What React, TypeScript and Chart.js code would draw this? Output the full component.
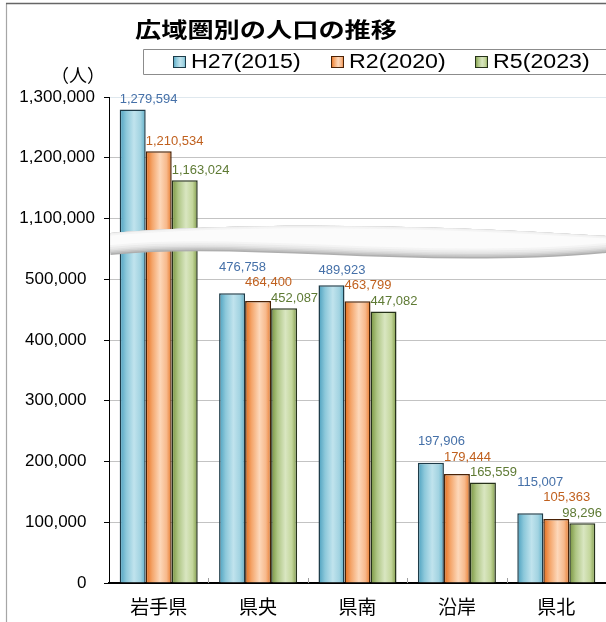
import React, { useEffect, useRef } from 'react';
import { Chart, registerables } from 'chart.js';

Chart.register(...registerables);

// ---- data ----
const categories = ['岩手県', '県央', '県南', '沿岸', '県北'];
const seriesNames = ['H27(2015)', 'R2(2020)', 'R5(2023)'];
const valuesH27 = [1279594, 476758, 489923, 197906, 115007];
const valuesR2 = [1210534, 464400, 463799, 179444, 105363];
const valuesR5 = [1163024, 452087, 447082, 165559, 98296];
const lowerTicks = [0, 100000, 200000, 300000, 400000, 500000];
const upperTicks = [1100000, 1200000, 1300000];
const chartTitle = '広域圏別の人口の推移';
const unitLabel = '（人）';

// axis break: values from BREAK_LOW to BREAK_HIGH are squeezed into one tick step
const STEP = 100000;
const BREAK_LOW = 500000;
const BREAK_HIGH = 1100000;
const GAP = BREAK_HIGH - BREAK_LOW - STEP;
const toAxis = (v: number) => (v > BREAK_LOW ? v - GAP : v);
const fromAxis = (a: number) => (a > BREAK_LOW ? a + GAP : a);

const seriesValues = [valuesH27, valuesR2, valuesR5];
const tickValues = [...lowerTicks, ...upperTicks];
const TOP_AXIS = toAxis(upperTicks[upperTicks.length - 1]);

// ---- styles ----
const JP = '"Noto Sans CJK JP", "Noto Sans", sans-serif';
const LAT = '"Liberation Sans", Arial, sans-serif';
const CAT_PCT = 0.785;
const GRID = '#c3c3c3';
const GRID_TOP = '#dfe8ee';
const gradStops = [
  ['#4A9FBE', '#8CC8DA', '#C0E3ED', '#A2D3E1', '#5FAFC9'],
  ['#E46C1A', '#F4A56A', '#FDD8BA', '#F7B98C', '#E8792B'],
  ['#76923C', '#AFC685', '#D9E6C1', '#C3D69B', '#7F9A48'],
];
const stopPos = [0, 0.25, 0.55, 0.8, 1];
const borderColors = ['#1D3B48', '#4A2206', '#26321A'];
const labelColors = ['#4570A8', '#C0601E', '#5E7A34'];

const fmt = (v: number) => v.toLocaleString('en-US');

function makeGrad(ctx: CanvasRenderingContext2D, left: number, width: number, d: number) {
  const g = ctx.createLinearGradient(left, 0, left + width, 0);
  gradStops[d].forEach((c, i) => g.addColorStop(stopPos[i], c));
  return g;
}

function drawWave(chart: any) {
  const ctx = chart.ctx as CanvasRenderingContext2D;
  const area = chart.chartArea;
  const ys = chart.scales.y;
  const mid = ys.getPixelForValue(toAxis(BREAK_LOW) + STEP / 2);
  const x0 = area.left + 1.5;
  const x3 = chart.width;
  const w = x3 - x0;
  const top = [mid - 16, mid - 27, mid - 25, mid - 13];
  const bot = [mid + 6, mid - 7, mid + 21, mid + 4];
  const cx = [x0, x0 + w * 0.28, x0 + w * 0.62, x3];
  const band = (topOff: number, botOff: number, color: string) => {
    ctx.beginPath();
    ctx.moveTo(cx[0], top[0] + topOff);
    ctx.bezierCurveTo(cx[1], top[1] + topOff, cx[2], top[2] + topOff, cx[3], top[3] + topOff);
    ctx.lineTo(cx[3], bot[3] - botOff);
    ctx.bezierCurveTo(cx[2], bot[2] - botOff, cx[1], bot[1] - botOff, cx[0], bot[0] - botOff);
    ctx.closePath();
    ctx.fillStyle = color;
    ctx.fill();
  };
  band(0, 0, '#aeaeae');
  band(0, 1.5, '#c2c2c2');
  band(0, 3, '#d3d3d3');
  band(0, 4.5, '#e1e1e1');
  band(0, 6, '#ebebeb');
  band(0.8, 8, '#f4f4f4');
  band(2.5, 10, '#fbfbfb');
}

function drawDataLabels(chart: any) {
  const ctx = chart.ctx as CanvasRenderingContext2D;
  ctx.font = `13px ${LAT}`;
  ctx.textBaseline = 'middle';
  ctx.textAlign = 'left';
  for (let i = 0; i < categories.length; i++) {
    let nextY = Infinity;
    for (let d = seriesValues.length - 1; d >= 0; d--) {
      const el = chart.getDatasetMeta(d).data[i] as any;
      if (!el) continue;
      const y = Math.min(el.y - 10, nextY - 15.5);
      nextY = y;
      const text = fmt(seriesValues[d][i]);
      const tw = ctx.measureText(text).width;
      const x = Math.min(el.x - el.width / 2, chart.width - 4 - tw);
      ctx.fillStyle = labelColors[d];
      ctx.fillText(text, x, y);
    }
  }
}

function drawLegendFrame(chart: any) {
  const ctx = chart.ctx as CanvasRenderingContext2D;
  ctx.strokeStyle = '#8c8c8c';
  ctx.lineWidth = 1;
  ctx.beginPath();
  ctx.moveTo(chart.width + 2, 49.5);
  ctx.lineTo(143.5, 49.5);
  ctx.lineTo(143.5, 74.5);
  ctx.lineTo(chart.width + 2, 74.5);
  ctx.stroke();
}

function drawTopFrame(chart: any) {
  const ctx = chart.ctx as CanvasRenderingContext2D;
  ctx.strokeStyle = '#666666';
  ctx.lineWidth = 1.5;
  ctx.beginPath();
  ctx.moveTo(6, 3.5);
  ctx.lineTo(chart.width, 3.5);
  ctx.stroke();
}

const decorPlugin = {
  id: 'decor',
  beforeDraw(chart: any) {
    const ctx = chart.ctx as CanvasRenderingContext2D;
    ctx.save();
    ctx.fillStyle = '#ffffff';
    ctx.fillRect(0, 0, chart.width, chart.height);
    ctx.strokeStyle = '#a6a6a6';
    ctx.lineWidth = 1.2;
    ctx.beginPath();
    ctx.moveTo(6.5, 3);
    ctx.lineTo(6.5, chart.height);
    ctx.stroke();
    drawTopFrame(chart);
    ctx.restore();
  },
  afterDatasetsDraw(chart: any) {
    const ctx = chart.ctx as CanvasRenderingContext2D;
    const area = chart.chartArea;
    const xs = chart.scales.x;
    ctx.save();
    ctx.strokeStyle = '#a0a0a0';
    ctx.lineWidth = 1;
    const n = categories.length;
    for (let k = 1; k < n; k++) {
      const x = Math.round(xs.left + (k * xs.width) / n) + 0.5;
      ctx.beginPath();
      ctx.moveTo(x, area.bottom - 5);
      ctx.lineTo(x, area.bottom);
      ctx.stroke();
    }
    drawWave(chart);
    drawDataLabels(chart);
    ctx.restore();
  },
  afterDraw(chart: any) {
    const ctx = chart.ctx as CanvasRenderingContext2D;
    const area = chart.chartArea;
    const ys = chart.scales.y;
    ctx.save();
    // repaint the right-most strip so no stray edge line remains
    const PX = 602;
    ctx.save();
    ctx.beginPath();
    ctx.rect(PX, 0, chart.width - PX, chart.height);
    ctx.clip();
    ctx.fillStyle = '#ffffff';
    ctx.fillRect(PX, 0, chart.width - PX, chart.height);
    drawTopFrame(chart);
    ctx.lineWidth = 1;
    tickValues.forEach((v) => {
      const a = toAxis(v);
      const y = Math.round(ys.getPixelForValue(a) - 0.5) + 0.5;
      ctx.strokeStyle = a === TOP_AXIS ? GRID_TOP : GRID;
      ctx.beginPath();
      ctx.moveTo(PX, y);
      ctx.lineTo(chart.width, y);
      ctx.stroke();
    });
    ctx.strokeStyle = '#000';
    ctx.lineWidth = 2;
    const by = Math.round(area.bottom - 1) + 1;
    ctx.beginPath();
    ctx.moveTo(PX, by);
    ctx.lineTo(chart.width, by);
    ctx.stroke();
    drawWave(chart);
    drawDataLabels(chart);
    ctx.restore();

    // title (horizontally stretched like the original)
    ctx.font = `bold 21px ${JP}`;
    ctx.textBaseline = 'middle';
    ctx.textAlign = 'left';
    ctx.fillStyle = '#000';
    const tw = ctx.measureText(chartTitle).width;
    ctx.save();
    ctx.translate(135, 29);
    ctx.scale(262 / tw, 1);
    ctx.fillText(chartTitle, 0, 0);
    ctx.restore();
    // legend
    drawLegendFrame(chart);
    const markerX = [173, 331, 475];
    ctx.font = `20px ${LAT}`;
    seriesNames.forEach((name, d) => {
      const mx = markerX[d];
      ctx.fillStyle = makeGrad(ctx, mx, 13, d);
      ctx.fillRect(mx, 56, 13, 12);
      ctx.strokeStyle = borderColors[d];
      ctx.lineWidth = 1;
      ctx.strokeRect(mx + 0.5, 56.5, 12, 11);
      ctx.fillStyle = '#000';
      ctx.save();
      ctx.translate(mx + 18, 62.5);
      ctx.scale(1.16, 1);
      ctx.fillText(name, 0, 0);
      ctx.restore();
    });
    // unit label
    ctx.font = `18px ${JP}`;
    ctx.textAlign = 'center';
    ctx.fillStyle = '#000';
    ctx.fillText(unitLabel, 78, 75.5);
    ctx.restore();
  },
};

export default function App() {
  const ref = useRef<HTMLCanvasElement | null>(null);
  useEffect(() => {
    if (!ref.current) return;
    const datasets = seriesNames.map((name, d) => ({
      label: name,
      data: seriesValues[d].map(toAxis),
      backgroundColor: (c: any) => {
        const chart = c.chart;
        const xs = chart.scales?.x;
        if (!xs || c.dataIndex === undefined || !chart.chartArea) return gradStops[d][2];
        const n = categories.length;
        const catW = xs.width / n;
        const barW = (catW * CAT_PCT) / seriesNames.length;
        const center = xs.getPixelForValue(c.dataIndex);
        const left = center - (catW * CAT_PCT) / 2 + d * barW;
        return makeGrad(chart.ctx, left, barW, d);
      },
      borderColor: borderColors[d],
      borderWidth: 1.5,
      categoryPercentage: CAT_PCT,
      barPercentage: 1,
    }));
    const chart = new Chart(ref.current, {
      type: 'bar',
      data: { labels: categories, datasets },
      options: {
        responsive: false,
        animation: false,
        devicePixelRatio: 1,
        layout: { padding: { top: 97, left: 0, right: 0, bottom: 0 } },
        plugins: {
          legend: { display: false },
          tooltip: { enabled: false },
          title: { display: false },
        },
        scales: {
          x: {
            type: 'category',
            offset: true,
            grid: { display: false, drawTicks: false },
            border: { display: true, color: '#000', width: 2 },
            ticks: {
              color: '#000',
              padding: 12,
              font: { family: JP, size: 19 },
              maxRotation: 0,
            },
            afterFit: (s: any) => {
              s.height = 39;
            },
          },
          y: {
            type: 'linear',
            min: 0,
            max: TOP_AXIS,
            afterBuildTicks: (s: any) => {
              s.ticks = tickValues.map((v) => ({ value: toAxis(v) }));
            },
            grid: {
              color: (c: any) => (c.tick && c.tick.value === TOP_AXIS ? GRID_TOP : GRID),
              lineWidth: 1,
              drawTicks: true,
              tickLength: 5,
              tickColor: '#000',
            },
            border: { display: true, color: '#000', width: 1 },
            ticks: {
              color: '#000',
              padding: 9,
              font: { family: LAT, size: 17 },
              callback: (val: any) => {
                const real = fromAxis(Number(val));
                return real < 1000000 ? fmt(real) + '\u2002' : fmt(real);
              },
            },
            afterFit: (s: any) => {
              s.width = 109;
            },
          },
        },
      },
      plugins: [decorPlugin],
    } as any);
    return () => chart.destroy();
  }, []);
  return (
    <div style={{ position: 'fixed', left: 0, top: 0, width: 606, height: 622, background: '#fff', overflow: 'hidden' }}>
      <canvas ref={ref} width={606} height={622} style={{ display: 'block', width: 606, height: 622 }} />
    </div>
  );
}
